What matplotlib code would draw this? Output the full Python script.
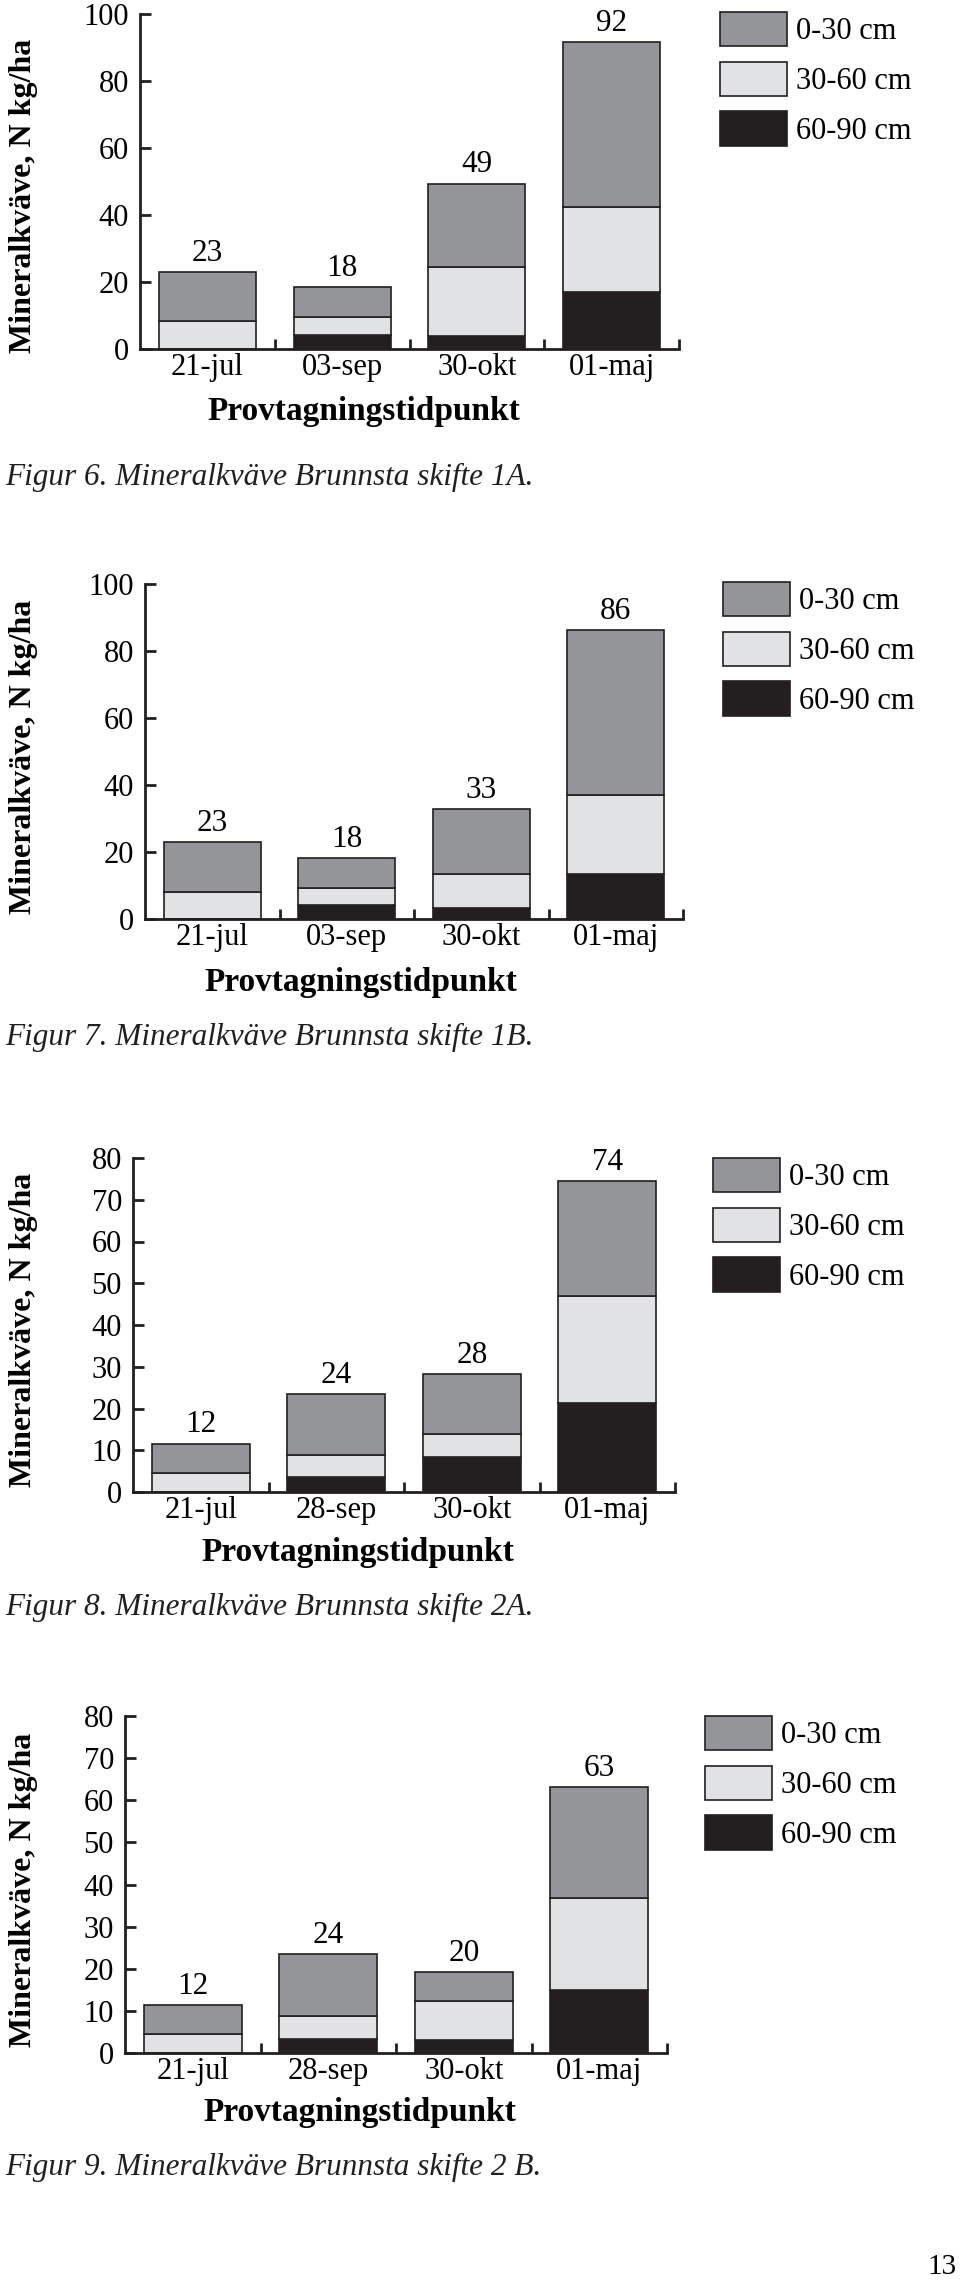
import matplotlib
matplotlib.use("Agg")
import matplotlib.pyplot as plt
import numpy as np

plt.rcParams['font.family'] = ['Liberation Serif', 'DejaVu Serif']

# ---------------- data ----------------
layers = ["0-30 cm", "30-60 cm", "60-90 cm"]

dates_1 = ["21-jul", "03-sep", "30-okt", "01-maj"]
f6_0_30 = [14.6, 8.8, 24.8, 49.3]
f6_30_60 = [8.4, 5.4, 20.7, 25.4]
f6_60_90 = [0.0, 4.2, 3.9, 16.9]
f6_totals = ["23", "18", "49", "92"]

f7_0_30 = [14.8, 8.8, 19.4, 49.4]
f7_30_60 = [8.2, 5.3, 9.9, 23.6]
f7_60_90 = [0.0, 4.1, 3.4, 13.3]
f7_totals = ["23", "18", "33", "86"]

dates_2 = ["21-jul", "28-sep", "30-okt", "01-maj"]
f8_0_30 = [7.1, 14.5, 14.3, 27.4]
f8_30_60 = [4.5, 5.4, 5.7, 25.7]
f8_60_90 = [0.0, 3.5, 8.3, 21.3]
f8_totals = ["12", "24", "28", "74"]

f9_0_30 = [6.9, 14.6, 7.0, 26.3]
f9_30_60 = [4.5, 5.4, 9.1, 22.0]
f9_60_90 = [0.0, 3.4, 3.2, 14.9]
f9_totals = ["12", "24", "20", "63"]

captions = ["Figur 6. Mineralkväve Brunnsta skifte 1A.",
            "Figur 7. Mineralkväve Brunnsta skifte 1B.",
            "Figur 8. Mineralkväve Brunnsta skifte 2A.",
            "Figur 9. Mineralkväve Brunnsta skifte 2 B."]
ylabel = "Mineralkväve, N kg/ha"
xlabel = "Provtagningstidpunkt"

# ---------------- style ----------------
W, H = 960, 2281
DPI = 100
c_top = "#939598"
c_mid = "#e1e2e3"
c_bot = "#231f20"
edge = "#231f20"
FS = 22
FS_LEG = 22

fig = plt.figure(figsize=(W / DPI, H / DPI), dpi=DPI)

panels = [
    dict(dates=dates_1, d=(f6_0_30, f6_30_60, f6_60_90), tot=f6_totals, cap=captions[0],
         left=140, right=679, y0=349, y1=14, ymax=100, step=20, leg=(720, 12), xl=(364, 412), capy=477, ylc=196),
    dict(dates=dates_1, d=(f7_0_30, f7_30_60, f7_60_90), tot=f7_totals, cap=captions[1],
         left=145, right=683, y0=919, y1=584, ymax=100, step=20, leg=(723, 582), xl=(361, 982), capy=1037, ylc=757),
    dict(dates=dates_2, d=(f8_0_30, f8_30_60, f8_60_90), tot=f8_totals, cap=captions[2],
         left=133, right=675, y0=1492, y1=1158, ymax=80, step=10, leg=(713, 1158), xl=(358, 1553), capy=1607, ylc=1330),
    dict(dates=dates_2, d=(f9_0_30, f9_30_60, f9_60_90), tot=f9_totals, cap=captions[3],
         left=125, right=667, y0=2053, y1=1716, ymax=80, step=10, leg=(705, 1716), xl=(360, 2113), capy=2167, ylc=1890),
]

for p in panels:
    ax = fig.add_axes([p['left'] / W, 1 - p['y0'] / H,
                       (p['right'] - p['left']) / W, (p['y0'] - p['y1']) / H])
    top, mid, bot = [np.array(v) for v in p['d']]
    x = np.arange(len(p['dates']))
    bw = 0.72
    b_bot = ax.bar(x, bot, bw, color=c_bot, edgecolor=edge, linewidth=1.2, label=layers[2])
    b_mid = ax.bar(x, mid, bw, bottom=bot, color=c_mid, edgecolor=edge, linewidth=1.2, label=layers[1])
    b_top = ax.bar(x, top, bw, bottom=bot + mid, color=c_top, edgecolor=edge, linewidth=1.2, label=layers[0])
    totals = bot + mid + top
    for xi, t, lab in zip(x, totals, p['tot']):
        ax.annotate(lab, (xi, t), xytext=(0, 3), textcoords='offset points',
                    ha='center', va='bottom', fontsize=22.5, annotation_clip=False)
    ax.set_xlim(-0.5, len(x) - 0.5)
    ax.set_ylim(0, p['ymax'])
    ax.set_yticks(np.arange(0, p['ymax'] + 1, p['step']))
    ax.set_xticks(x)
    ax.set_xticklabels(p['dates'])
    ax.set_xticks(np.arange(0.5, len(x), 1.0), minor=True)
    ax.tick_params(axis='x', which='major', length=0, pad=3, labelsize=FS)
    ax.tick_params(axis='x', which='minor', direction='in', length=7, width=2, color=edge)
    ax.tick_params(axis='y', which='major', direction='in', length=8, width=2, pad=8, labelsize=FS, color=edge)
    for s in ['top', 'right']:
        ax.spines[s].set_visible(False)
    for s in ['left', 'bottom']:
        ax.spines[s].set_linewidth(2)
        ax.spines[s].set_color(edge)
    ax.set_facecolor('none')

    ax.legend(handles=[b_top, b_mid, b_bot], labels=layers,
              bbox_to_anchor=(p['leg'][0] / W, 1 - p['leg'][1] / H), bbox_transform=fig.transFigure,
              loc='upper left', frameon=False, borderpad=0, borderaxespad=0,
              handlelength=2.2, handleheight=1.35, handletextpad=0.3, labelspacing=0.5, fontsize=FS_LEG)

    fig.text(24 / W, 1 - p['ylc'] / H, ylabel, rotation=90, ha='center', va='center',
             fontsize=23, fontweight='bold')
    fig.text(p['xl'][0] / W, 1 - p['xl'][1] / H, xlabel, ha='center', va='center',
             fontsize=24, fontweight='bold')
    fig.text(5 / W, 1 - p['capy'] / H, p['cap'], ha='left', va='center',
             fontsize=22.5, style='italic', color='#231f20')

fig.text(957 / W, 1 - 2267 / H, "13", ha='right', va='center', fontsize=21)

fig.savefig("out.png", dpi=DPI, facecolor='white')
